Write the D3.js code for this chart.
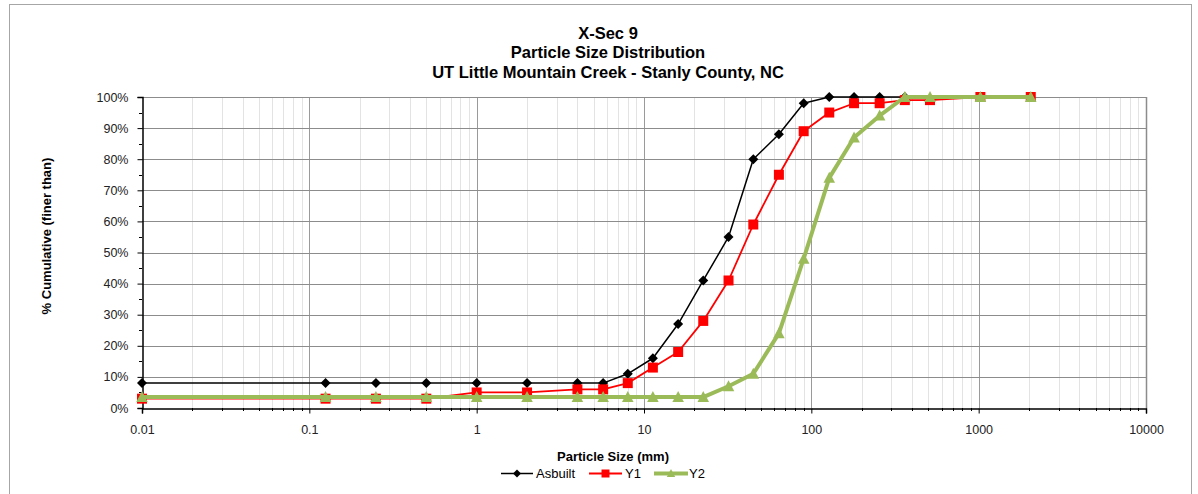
<!DOCTYPE html>
<html>
<head>
<meta charset="utf-8">
<script src="https://cdn.jsdelivr.net/npm/d3@7"></script>
<style>
  html, body { margin: 0; padding: 0; background: #fff; }
  svg { display: block; font-family: "Liberation Sans", Arial, sans-serif; }
</style>
</head>
<body>
<svg id="chart" width="1198" height="494"></svg>
<script>
// ---- data ----
const titleLines = ["X-Sec 9", "Particle Size Distribution", "UT Little Mountain Creek - Stanly County, NC"];
const particleSizes = [0.01, 0.125, 0.25, 0.5, 1, 2, 4, 5.7, 8, 11.3, 16, 22.6, 32, 45, 64, 90, 128, 180, 256, 362, 512, 1024, 2048];
const asbuilt = [8, 8, 8, 8, 8, 8, 8, 8, 11, 16, 27, 41, 55, 80, 88, 98, 100, 100, 100, 100];
const y1 = [3, 3, 3, 3, 5, 5, 6, 6, 8, 13, 18, 28, 41, 59, 75, 89, 95, 98, 98, 99, 99, 100, 100];
const y2 = [3.5, 3.5, 3.5, 3.5, 3.5, 3.5, 3.5, 3.5, 3.5, 3.5, 3.5, 3.5, 7, 11, 24, 48, 74, 87, 94, 100, 100, 100, 100];
const xTickValues = [0.01, 0.1, 1, 10, 100, 1000, 10000];
const xTickLabels = ["0.01", "0.1", "1", "10", "100", "1000", "10000"];
const yTickValues = [0, 10, 20, 30, 40, 50, 60, 70, 80, 90, 100];
const seriesNames = ["Asbuilt", "Y1", "Y2"];

// ---- layout ----
const svg = d3.select("#chart");
const L = 142, R = 1146, T = 97, B = 408;

const x = d3.scaleLog().domain([0.01, 10000]).range([L, R]);
const y = d3.scaleLinear().domain([0, 100]).range([B, T]);

// outer chart border
svg.append("rect").attr("x", 9.5).attr("y", 4.5).attr("width", 1182).attr("height", 520)
  .attr("fill", "none").attr("stroke", "#a6a6a6").attr("stroke-width", 1);

// minor vertical grid
const minorX = [];
for (let e = -2; e < 4; e++) for (let m = 2; m <= 9; m++) minorX.push(m * Math.pow(10, e));
const g = svg.append("g");
g.selectAll("line.minx").data(minorX).join("line")
  .attr("x1", d => Math.round(x(d)) + 0.5).attr("x2", d => Math.round(x(d)) + 0.5)
  .attr("y1", T).attr("y2", B).attr("stroke", "#e3e3e3").attr("stroke-width", 1);
// major vertical grid
g.selectAll("line.majx").data(xTickValues.slice(1, -1)).join("line")
  .attr("x1", d => Math.round(x(d)) + 0.5).attr("x2", d => Math.round(x(d)) + 0.5)
  .attr("y1", T).attr("y2", B).attr("stroke", "#9a9a9a").attr("stroke-width", 1);
// horizontal grid
g.selectAll("line.majy").data(yTickValues.slice(1)).join("line")
  .attr("x1", L).attr("x2", R)
  .attr("y1", d => Math.round(y(d)) + 0.5).attr("y2", d => Math.round(y(d)) + 0.5)
  .attr("stroke", "#8c8c8c").attr("stroke-width", 1);
// right border
g.append("line").attr("x1", R + 0.5).attr("x2", R + 0.5).attr("y1", T).attr("y2", B)
  .attr("stroke", "#8c8c8c").attr("stroke-width", 1.5);

// axes
const yAxis = d3.axisLeft(y).tickValues(yTickValues).tickFormat(d => d + "%").tickSize(5).tickPadding(9);
const yAx = svg.append("g").attr("transform", `translate(${L + 0.5},0)`).call(yAxis);
yAx.select(".domain").attr("stroke", "#000").attr("stroke-width", 1.5);
yAx.selectAll("text").attr("font-size", 12.5).attr("fill", "#222");
// minor y ticks
svg.append("g").selectAll("line").data(d3.range(5, 100, 10)).join("line")
  .attr("x1", L - 3).attr("x2", L).attr("y1", d => Math.round(y(d)) + 0.5).attr("y2", d => Math.round(y(d)) + 0.5)
  .attr("stroke", "#000");

const xAxis = d3.axisBottom(x).tickValues(xTickValues)
  .tickFormat((d, i) => xTickLabels[i]).tickSize(5).tickPadding(12);
const xAx = svg.append("g").attr("transform", `translate(0,${B + 0.5})`).call(xAxis);
xAx.select(".domain").attr("stroke", "#000").attr("stroke-width", 1.5);
xAx.selectAll("text").attr("font-size", 12.5).attr("fill", "#222");
// minor x ticks
svg.append("g").selectAll("line").data(minorX).join("line")
  .attr("x1", d => Math.round(x(d)) + 0.5).attr("x2", d => Math.round(x(d)) + 0.5)
  .attr("y1", B).attr("y2", B + 3).attr("stroke", "#000");

// marker shapes (half-size r in px)
const markerPath = {
  diamond: r => `M0,${-r}L${r},0L0,${r}L${-r},0Z`,
  square: r => `M${-r},${-r}H${r}V${r}H${-r}Z`,
  triangle: r => `M0,${-r * 1.1}L${r * 1.05},${r * 0.9}L${-r * 1.05},${r * 0.9}Z`
};

// series
const line = d3.line().x(d => x(d[0])).y(d => y(d[1]));
const mk = vals => vals.map((v, i) => [particleSizes[i], v]);
const series = [
  { name: seriesNames[0], data: mk(asbuilt), color: "#000000", width: 1.5, marker: "diamond", r: 5, lr: 4 },
  { name: seriesNames[1], data: mk(y1), color: "#ff0000", width: 1.8, marker: "square", r: 5, lr: 4 },
  { name: seriesNames[2], data: mk(y2), color: "#9bbb59", width: 4, marker: "triangle", r: 5.5, lr: 4 }
];

series.forEach(s => {
  const gs = svg.append("g");
  gs.append("path").attr("d", line(s.data)).attr("fill", "none")
    .attr("stroke", s.color).attr("stroke-width", s.width).attr("stroke-linejoin", "round");
  gs.selectAll("path.m").data(s.data).join("path")
    .attr("transform", d => `translate(${x(d[0])},${y(d[1])})`)
    .attr("d", markerPath[s.marker](s.r)).attr("fill", s.color);
});

// title
svg.append("g").selectAll("text").data(titleLines).join("text")
  .attr("x", 608).attr("y", (d, i) => 39 + i * 19.3)
  .attr("text-anchor", "middle").attr("font-weight", "bold").attr("font-size", 16.5).attr("fill", "#000")
  .text(d => d);

// axis titles
svg.append("text").attr("transform", "translate(51,236) rotate(-90)")
  .attr("text-anchor", "middle").attr("font-weight", "bold").attr("font-size", 13).text("% Cumulative (finer than)");
svg.append("text").attr("x", 613).attr("y", 461)
  .attr("text-anchor", "middle").attr("font-weight", "bold").attr("font-size", 13).text("Particle Size (mm)");

// legend
const legendItems = [
  { s: series[0], x0: 501, x1: 533, tx: 536 },
  { s: series[1], x0: 589, x1: 622, tx: 625 },
  { s: series[2], x0: 654, x1: 688, tx: 689 }
];
const ly = 473.5;
const lg = svg.append("g");
legendItems.forEach(it => {
  lg.append("line").attr("x1", it.x0).attr("x2", it.x1).attr("y1", ly).attr("y2", ly)
    .attr("stroke", it.s.color).attr("stroke-width", it.s.width);
  lg.append("path").attr("transform", `translate(${(it.x0 + it.x1) / 2},${ly})`)
    .attr("d", markerPath[it.s.marker](it.s.lr)).attr("fill", it.s.color);
  lg.append("text").attr("x", it.tx).attr("y", ly + 4.5).attr("font-size", 13).attr("fill", "#000").text(it.s.name);
});
</script>
</body>
</html>
